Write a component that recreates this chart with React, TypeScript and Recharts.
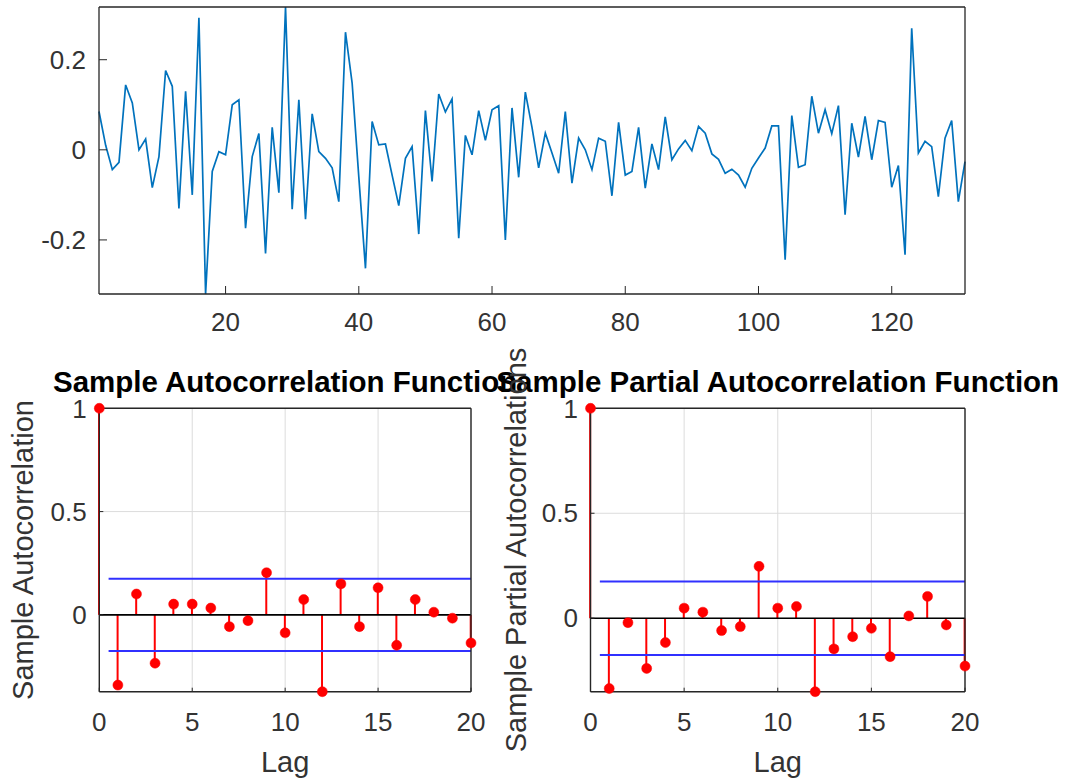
import React from 'react';
import {
  LineChart,
  Line,
  XAxis,
  YAxis,
  ComposedChart,
  Bar,
  CartesianGrid,
  ReferenceLine,
} from 'recharts';

// ---------- data ----------
const SERIES_VALUES = [
  0.085, 0.01, -0.044, -0.028, 0.144, 0.104, 0.0, 0.024, -0.084, -0.015,
  0.176, 0.141, -0.13, 0.13, -0.1, 0.293, -0.32, -0.048, -0.004, -0.011,
  0.1, 0.111, -0.174, -0.015, 0.036, -0.23, 0.05, -0.095, 0.317, -0.132,
  0.111, -0.154, 0.08, -0.004, -0.019, -0.04, -0.115, 0.261, 0.148, -0.06,
  -0.263, 0.063, 0.011, 0.013, -0.056, -0.124, -0.019, 0.007, -0.187, 0.087,
  -0.07, 0.124, 0.084, 0.113, -0.196, 0.032, -0.011, 0.087, 0.021, 0.089,
  0.098, -0.2, 0.093, -0.061, 0.128, 0.05, -0.04, 0.037, -0.007, -0.052,
  0.085, -0.074, 0.026, 0.0, -0.044, 0.026, 0.019, -0.102, 0.061, -0.056,
  -0.048, 0.05, -0.085, 0.013, -0.044, 0.073, -0.022, 0.002, 0.021, -0.002,
  0.052, 0.037, -0.009, -0.021, -0.052, -0.043, -0.056, -0.083, -0.041, -0.018,
  0.004, 0.053, 0.053, -0.244, 0.076, -0.039, -0.033, 0.119, 0.037, 0.089,
  0.036, 0.098, -0.144, 0.059, -0.016, 0.074, -0.022, 0.065, 0.061, -0.083,
  -0.035, -0.233, 0.27, -0.007, 0.019, 0.007, -0.104, 0.026, 0.065, -0.115,
  -0.026,
];
const SERIES_X_TICKS = [20, 40, 60, 80, 100, 120];
const SERIES_Y_TICKS = [-0.2, 0, 0.2];

const LAGS = [0, 1, 2, 3, 4, 5, 6, 7, 8, 9, 10, 11, 12, 13, 14, 15, 16, 17, 18, 19, 20];
const ACF_VALUES = [
  1, -0.34, 0.101, -0.234, 0.052, 0.052, 0.033, -0.057, -0.028, 0.204, -0.087,
  0.074, -0.372, 0.15, -0.057, 0.131, -0.147, 0.074, 0.013, -0.016, -0.136,
];
const PACF_VALUES = [
  1, -0.335, -0.021, -0.239, -0.116, 0.048, 0.029, -0.059, -0.04, 0.247, 0.048,
  0.056, -0.35, -0.146, -0.088, -0.048, -0.183, 0.011, 0.104, -0.032, -0.228,
];
const ACF_BOUND = 0.175;
const PACF_BOUND = 0.175;
const BOUND_START_LAG = 0.5;
const LAG_TICKS = [0, 5, 10, 15, 20];
const CORR_TICKS = [0, 0.5, 1];

const ACF_TITLE = 'Sample Autocorrelation Function';
const PACF_TITLE = 'Sample Partial Autocorrelation Function';
const ACF_YLABEL = 'Sample Autocorrelation';
const PACF_YLABEL = 'Sample Partial Autocorrelations';
const LAG_LABEL = 'Lag';

// ---------- styles ----------
const FONT = '"Liberation Sans", Arial, Helvetica, sans-serif';
const AXIS = '#262626';
const TEXT = '#333333';
const LINE_BLUE = '#0072BD';
const RED = '#ff0000';
const BOUND_BLUE = '#3030ff';

const seriesData = SERIES_VALUES.map((v, i) => ({ t: i + 1, v }));
const sMin = Math.min(...SERIES_VALUES);
const sMax = Math.max(...SERIES_VALUES);

function TopChart() {
  const axisLine = { stroke: AXIS, strokeWidth: 1.3 };
  const tickLine = { stroke: AXIS, strokeWidth: 1 };
  return (
    <div style={{ position: 'absolute', left: 0, top: 0 }}>
      <LineChart
        width={1068}
        height={345}
        data={seriesData}
        margin={{ top: 6, right: 102, bottom: 1, left: 0 }}
      >
        <XAxis
          dataKey="t"
          type="number"
          domain={[1, SERIES_VALUES.length]}
          ticks={SERIES_X_TICKS}
          interval={0}
          height={50}
          tickSize={-8}
          tickMargin={27}
          axisLine={axisLine}
          tickLine={tickLine}
          tick={{ fill: TEXT, fontSize: 26 }}
        />
        <XAxis
          xAxisId="top"
          orientation="top"
          dataKey="t"
          type="number"
          domain={[1, SERIES_VALUES.length]}
          ticks={SERIES_X_TICKS}
          interval={0}
          height={1}
          tickSize={-8}
          allowDataOverflow
          axisLine={axisLine}
          tickLine={tickLine}
          tick={false}
        />
        <YAxis
          type="number"
          domain={[sMin, sMax]}
          ticks={SERIES_Y_TICKS}
          interval={0}
          width={99}
          tickSize={-8}
          tickMargin={21}
          axisLine={axisLine}
          tickLine={tickLine}
          tick={{ fill: TEXT, fontSize: 26 }}
        />
        <YAxis
          yAxisId="right"
          orientation="right"
          type="number"
          domain={[sMin, sMax]}
          ticks={SERIES_Y_TICKS}
          interval={0}
          width={1}
          tickSize={-8}
          allowDataOverflow
          axisLine={axisLine}
          tickLine={tickLine}
          tick={false}
        />
        <Line
          dataKey="v"
          stroke={LINE_BLUE}
          strokeWidth={1.7}
          dot={false}
          activeDot={false}
          isAnimationActive={false}
        />
      </LineChart>
    </div>
  );
}

type CorrProps = {
  values: number[];
  bound: number;
  left: number;
  width: number;
  yAxisWidth: number;
  marginRight: number;
};

function CorrChart({ values, bound, left, width, yAxisWidth, marginRight }: CorrProps) {
  const data = LAGS.map((lag, i) => ({ lag, value: values[i] }));
  const yMin = Math.min(...values);
  const axisLine = { stroke: AXIS, strokeWidth: 1.4 };
  const tickLine = { stroke: AXIS, strokeWidth: 1 };
  const lastLag = LAGS[LAGS.length - 1];
  return (
    <div style={{ position: 'absolute', left, top: 380 }}>
      <ComposedChart
        width={width}
        height={400}
        data={data}
        margin={{ top: 27.3, right: marginRight, bottom: 8.3, left: 0 }}
      >
        <CartesianGrid stroke="#dcdcdc" strokeWidth={1} />
        <XAxis
          dataKey="lag"
          type="number"
          domain={[LAGS[0], lastLag]}
          ticks={LAG_TICKS}
          interval={0}
          height={80}
          tickSize={-4}
          tickMargin={25.3}
          axisLine={axisLine}
          tickLine={tickLine}
          tick={{ fill: TEXT, fontSize: 26 }}
        />
        <XAxis
          xAxisId="top"
          orientation="top"
          dataKey="lag"
          type="number"
          domain={[LAGS[0], lastLag]}
          ticks={LAG_TICKS}
          interval={0}
          height={1}
          tickSize={-4}
          allowDataOverflow
          axisLine={axisLine}
          tickLine={tickLine}
          tick={false}
        />
        <YAxis
          type="number"
          domain={[yMin, 1]}
          ticks={CORR_TICKS}
          interval={0}
          width={yAxisWidth}
          tickSize={-4}
          tickMargin={16.6}
          axisLine={axisLine}
          tickLine={tickLine}
          tick={{ fill: TEXT, fontSize: 26 }}
        />
        <YAxis
          yAxisId="right"
          orientation="right"
          type="number"
          domain={[yMin, 1]}
          ticks={CORR_TICKS}
          interval={0}
          width={1}
          tickSize={-4}
          allowDataOverflow
          axisLine={axisLine}
          tickLine={tickLine}
          tick={false}
        />
        <Bar dataKey="value" fill={RED} barSize={2} isAnimationActive={false} />
        <ReferenceLine y={0} stroke="#000" strokeWidth={1.6} />
        <ReferenceLine
          segment={[
            { x: BOUND_START_LAG, y: bound },
            { x: lastLag, y: bound },
          ]}
          stroke={BOUND_BLUE}
          strokeWidth={2}
        />
        <ReferenceLine
          segment={[
            { x: BOUND_START_LAG, y: -bound },
            { x: lastLag, y: -bound },
          ]}
          stroke={BOUND_BLUE}
          strokeWidth={2}
        />
        <Line
          dataKey="value"
          stroke="none"
          dot={{ r: 5, fill: RED, stroke: RED, strokeWidth: 0.5 }}
          activeDot={false}
          isAnimationActive={false}
        />
      </ComposedChart>
    </div>
  );
}

function Labels() {
  const acfCx = (99.3 + 471) / 2;
  const pacfCx = (590.5 + 965) / 2;
  return (
    <svg
      width={1068}
      height={780}
      style={{ position: 'absolute', left: 0, top: 0, pointerEvents: 'none', fontFamily: FONT }}
    >
      <text x={acfCx} y={392} textAnchor="middle" fontWeight="bold" fontSize={29.5} fill="#000">
        {ACF_TITLE}
      </text>
      <text x={pacfCx} y={392} textAnchor="middle" fontWeight="bold" fontSize={29.5} fill="#000">
        {PACF_TITLE}
      </text>
      <text x={acfCx} y={772} textAnchor="middle" fontSize={29} fill={TEXT}>
        {LAG_LABEL}
      </text>
      <text x={pacfCx} y={772} textAnchor="middle" fontSize={29} fill={TEXT}>
        {LAG_LABEL}
      </text>
      <text transform="translate(33.3,550) rotate(-90)" textAnchor="middle" fontSize={29} fill={TEXT}>
        {ACF_YLABEL}
      </text>
      <text transform="translate(526,550) rotate(-90)" textAnchor="middle" fontSize={29} fill={TEXT}>
        {PACF_YLABEL}
      </text>
    </svg>
  );
}

export default function App() {
  return (
    <div
      style={{
        position: 'absolute',
        left: 0,
        top: 0,
        width: 1068,
        height: 780,
        background: '#fff',
        fontFamily: FONT,
        overflow: 'hidden',
      }}
    >
      <TopChart />
      <CorrChart
        values={ACF_VALUES}
        bound={ACF_BOUND}
        left={0}
        width={500}
        yAxisWidth={99.3}
        marginRight={28}
      />
      <CorrChart
        values={PACF_VALUES}
        bound={PACF_BOUND}
        left={490}
        width={578}
        yAxisWidth={100.5}
        marginRight={102}
      />
      <Labels />
    </div>
  );
}
